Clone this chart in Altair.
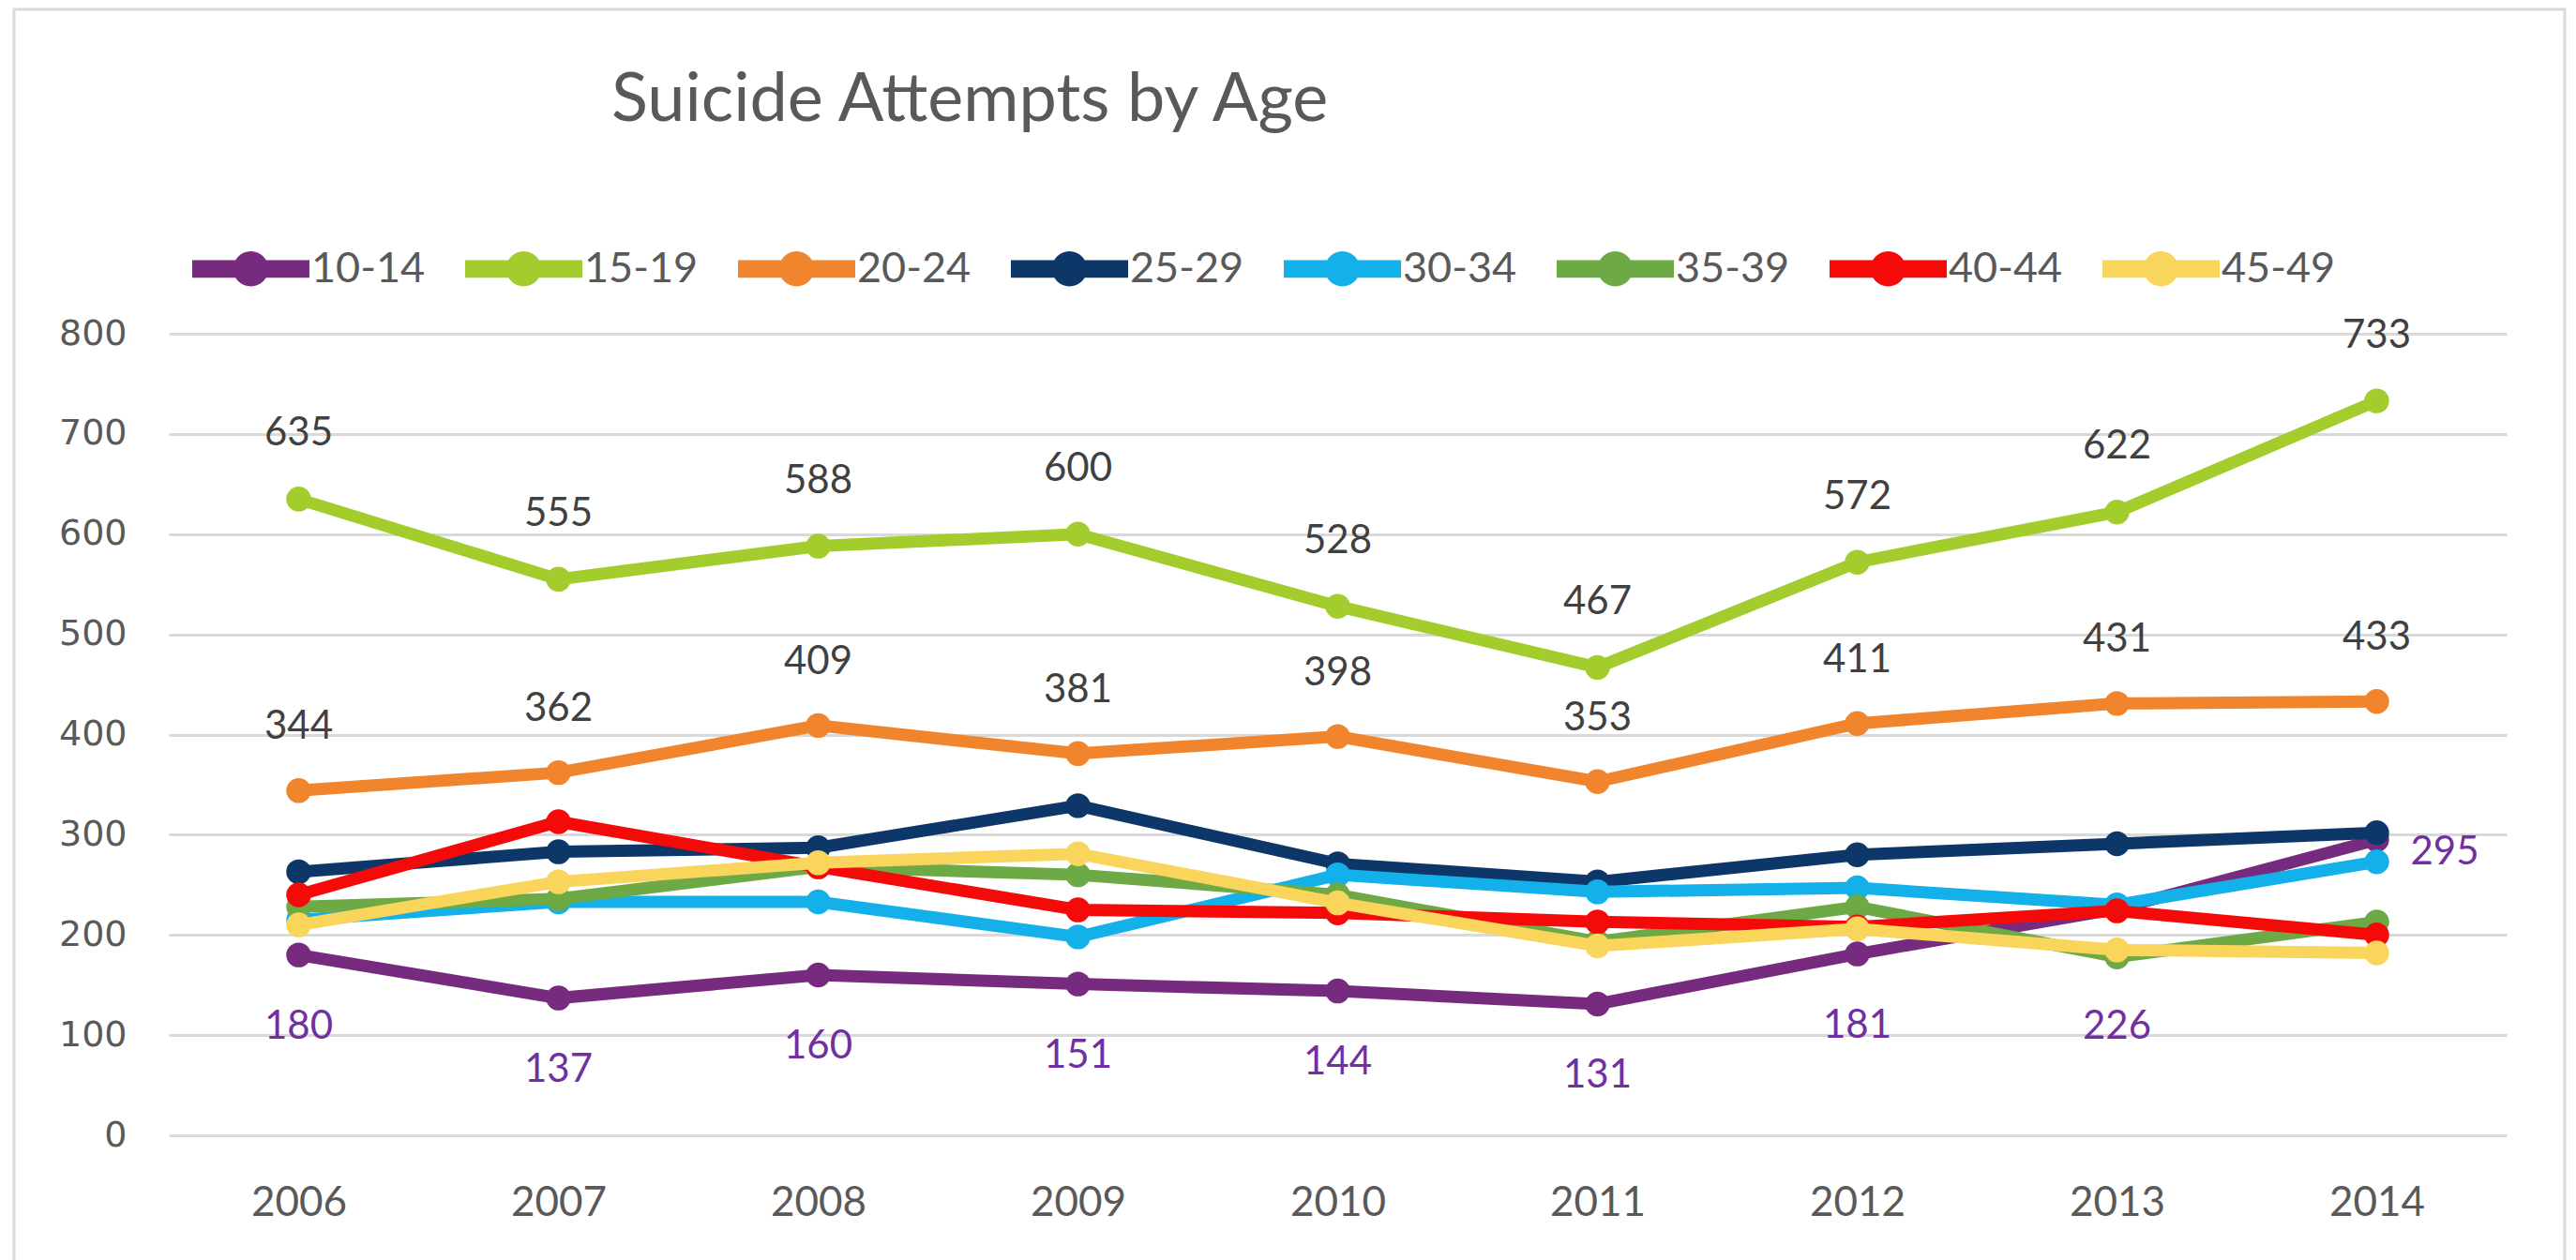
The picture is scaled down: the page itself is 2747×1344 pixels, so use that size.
import altair as alt
import pandas as pd

years = [2006, 2007, 2008, 2009, 2010, 2011, 2012, 2013, 2014]
series = ["10-14", "15-19", "20-24", "25-29", "30-34", "35-39", "40-44", "45-49"]
colors = ["#772B7E", "#A2CD2C", "#F0852D", "#0E3769", "#14B0EA", "#6DAA45", "#F50A0A", "#F9D55B"]

age_10_14 = [180, 137, 160, 151, 144, 131, 181, 226, 295]
age_15_19 = [635, 555, 588, 600, 528, 467, 572, 622, 733]
age_20_24 = [344, 362, 409, 381, 398, 353, 411, 431, 433]
age_25_29 = [263, 283, 287, 329, 271, 253, 280, 291, 302]
age_30_34 = [215, 233, 233, 198, 260, 243, 247, 230, 273]
age_35_39 = [228, 236, 268, 260, 240, 193, 228, 178, 213]
age_40_44 = [240, 313, 268, 225, 222, 213, 208, 224, 200]
age_45_49 = [210, 253, 272, 281, 232, 189, 206, 185, 182]

values = [age_10_14, age_15_19, age_20_24, age_25_29, age_30_34, age_35_39, age_40_44, age_45_49]

rows = []
for s, vals in zip(series, values):
    for yr, v in zip(years, vals):
        rows.append({"year": yr, "series": s, "value": v})
df = pd.DataFrame(rows)

W, H = 2493, 855

x = alt.X("year:O", scale=alt.Scale(type="point", padding=0.5),
          axis=alt.Axis(title=None, labelAngle=0, ticks=False, domain=False, grid=False,
                        labelFont="Lato", labelFontSize=44, labelColor="#595959",
                        labelPadding=50))
y = alt.Y("value:Q", scale=alt.Scale(domain=[0, 800], nice=False),
          axis=alt.Axis(title=None, values=[0, 100, 200, 300, 400, 500, 600, 700, 800],
                        ticks=False, domain=False, gridColor="#d9d9d9", gridWidth=3,
                        labelFont="DejaVu Sans", labelFontSize=38, labelColor="#595959",
                        labelPadding=45))

legend_path = ("M -1 -0.15 L 1 -0.15 L 1 0.15 L -1 0.15 Z "
               "M 0.3 0 A 0.3 0.3 0 1 1 -0.3 0 A 0.3 0.3 0 1 1 0.3 0 Z")

color = alt.Color("series:N", scale=alt.Scale(domain=series, range=colors),
                  legend=alt.Legend(orient="none", legendX=25, legendY=-132,
                                    direction="horizontal", columns=8, title=None,
                                    symbolType=legend_path, symbolSize=15625,
                                    symbolStrokeWidth=0, symbolOpacity=1,
                                    labelFont="Lato", labelFontSize=45, labelColor="#595959",
                                    labelOffset=2, columnPadding=42))

base = alt.Chart(df).encode(x=x, y=y, color=color)

border = alt.Chart(pd.DataFrame({"a": [0]})).mark_rect(
    fillOpacity=0, stroke="#d9d9d9", strokeWidth=3
).encode(x=alt.value(-165), x2=alt.value(W + 62), y=alt.value(-346), y2=alt.value(H + 200))

layers = [border]
for s in series:
    sub = base.transform_filter(alt.datum.series == s)
    layers.append(sub.mark_line(strokeWidth=13))
    layers.append(sub.mark_point(filled=True, size=700, opacity=1))

txt = alt.Chart(df).encode(x=x, y=y, text="value:Q")
t_15 = txt.transform_filter(alt.datum.series == "15-19").mark_text(
    dy=-70, font="Lato", fontSize=42, color="#404040")
t_20 = txt.transform_filter(alt.datum.series == "20-24").mark_text(
    dy=-68, font="Lato", fontSize=42, color="#404040")
t_10a = txt.transform_filter((alt.datum.series == "10-14") & (alt.datum.year <= 2012)).mark_text(
    dy=76, font="Lato", fontSize=42, color="#7030A0")
t_10b = txt.transform_filter((alt.datum.series == "10-14") & (alt.datum.year == 2013)).mark_text(
    dy=126, font="Lato", fontSize=42, color="#7030A0")
t_10c = txt.transform_filter((alt.datum.series == "10-14") & (alt.datum.year == 2014)).mark_text(
    dx=36, dy=13, align="left", font="Lato", fontSize=42, color="#7030A0")

layers += [t_15, t_20, t_10a, t_10b, t_10c]

chart = alt.layer(*layers).properties(
    width=W, height=H,
    title=alt.TitleParams("Suicide Attempts by Age", anchor="start", frame="group",
                          font="Lato", fontSize=72, fontWeight="normal", color="#595959",
                          dx=472, offset=0, dy=135),
    autosize=alt.AutoSizeParams(type="none"),
    padding={"left": 180, "top": 356, "right": 74, "bottom": 133},
    background="white",
).configure_view(stroke=None)

chart.save("out.html", embed_options={"renderer": "svg", "actions": False})
